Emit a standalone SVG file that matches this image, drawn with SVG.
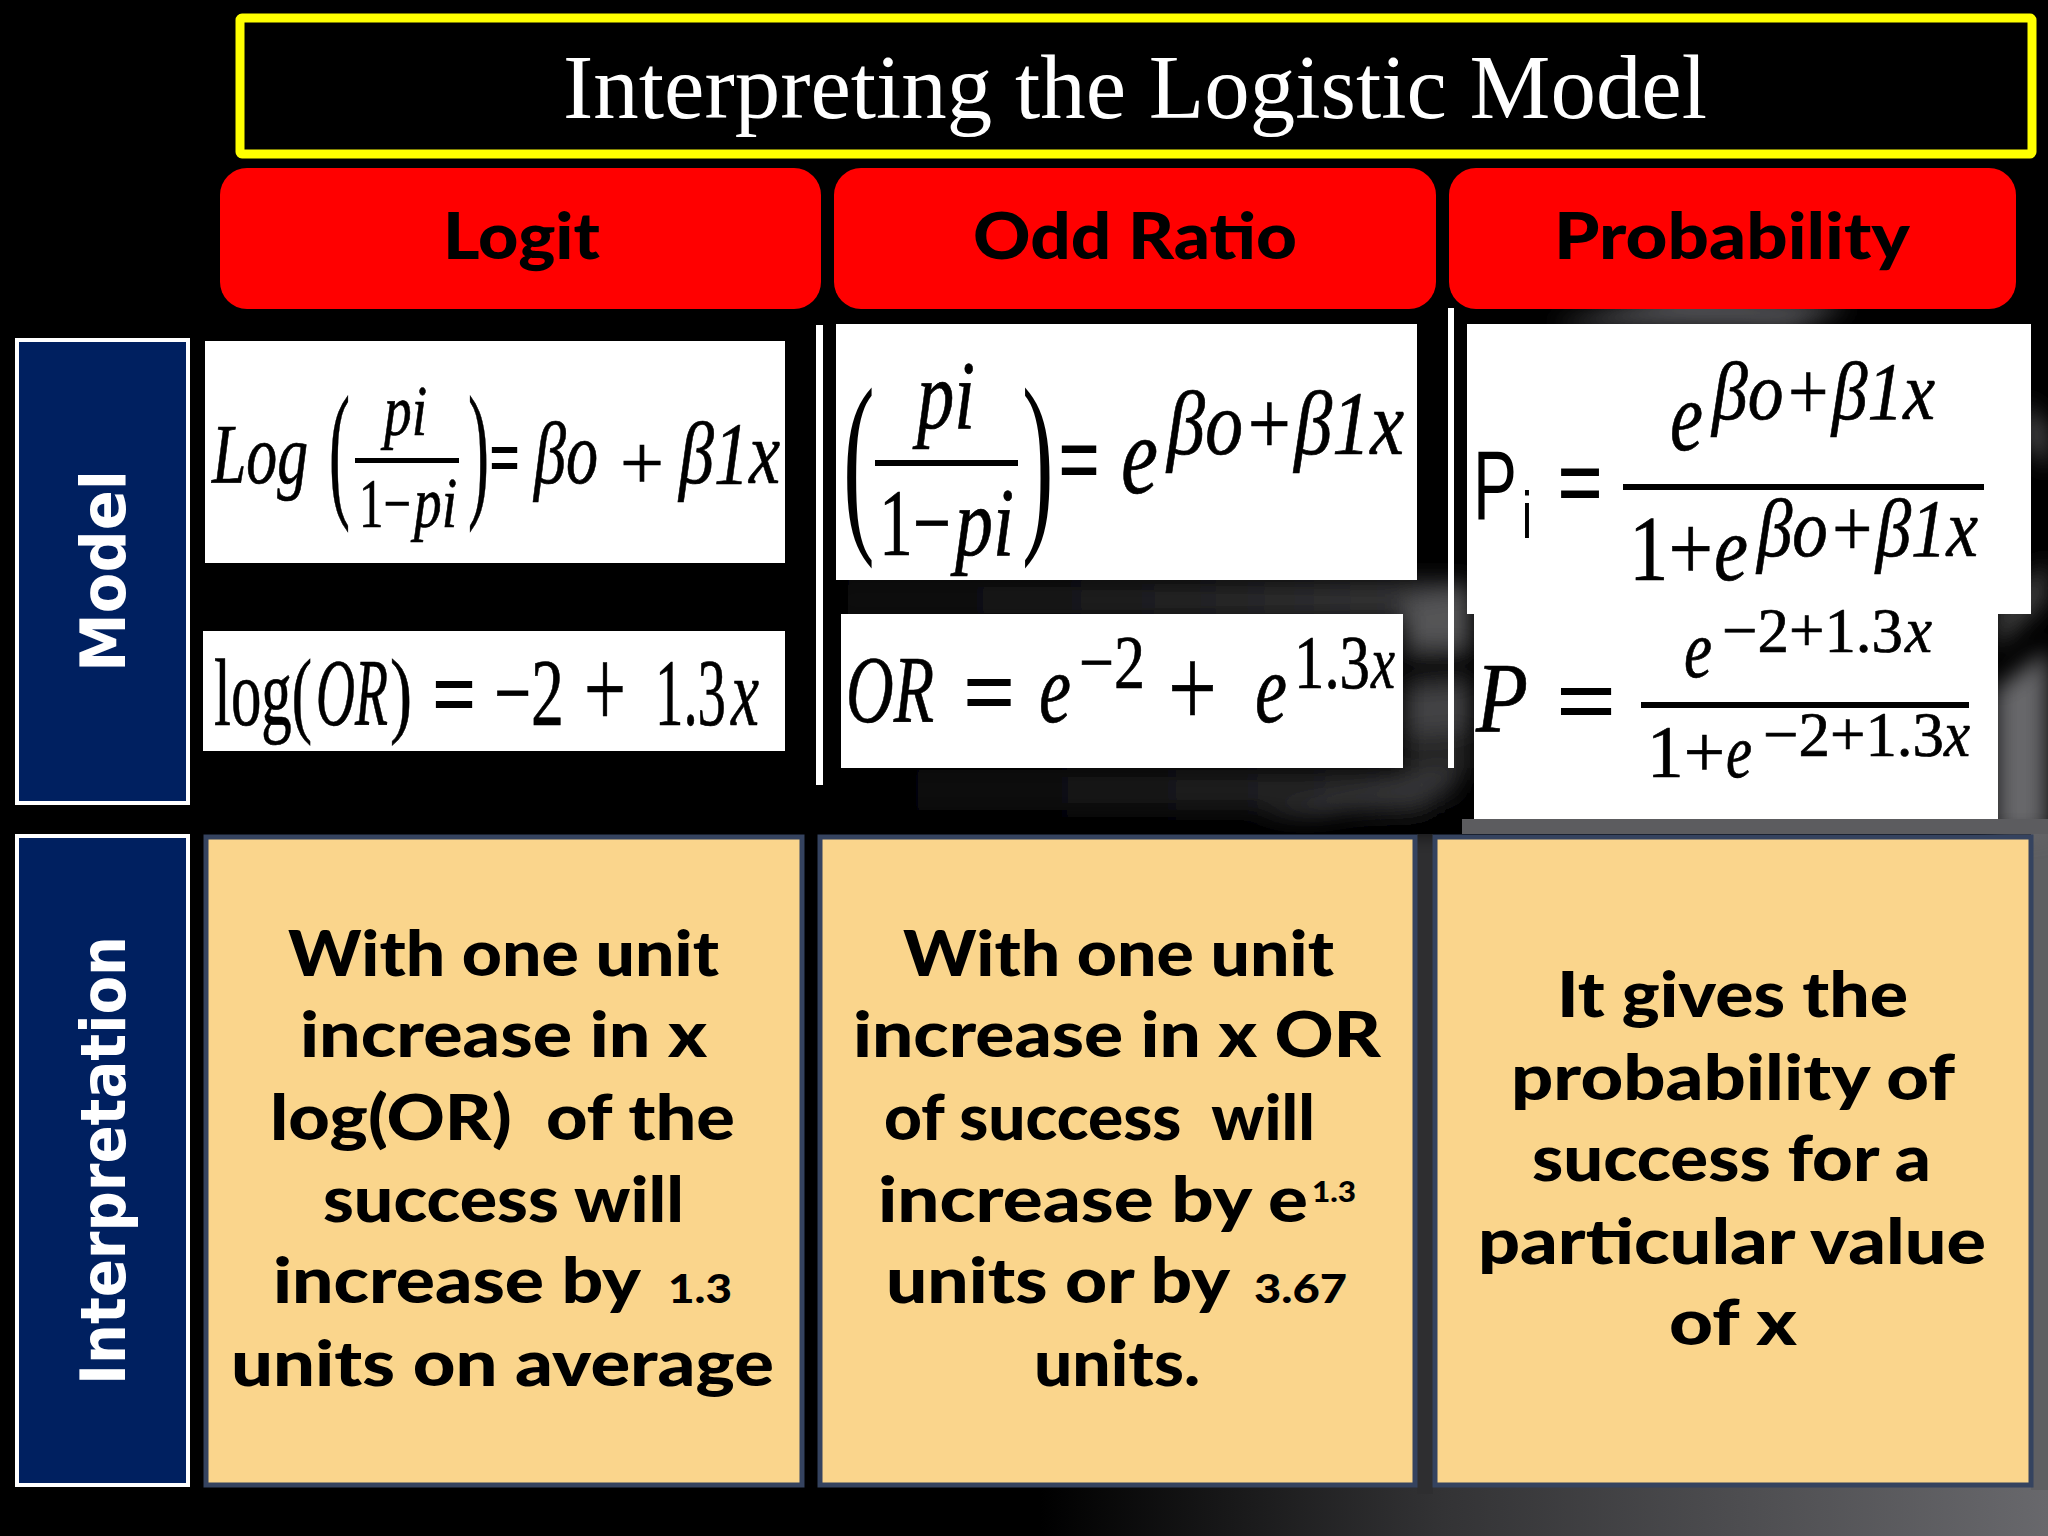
<svg xmlns="http://www.w3.org/2000/svg" width="2048" height="1536" viewBox="0 0 2048 1536">
<style>
.nav{fill:#002060;stroke:#fff;stroke-width:4}
.navt{font-family:"DejaVu Sans",sans-serif;font-weight:700;font-size:63px;fill:#fff}
.hdr{fill:#f00}
.hdt{font-family:"Lato",sans-serif;font-weight:900;font-size:64px;fill:#000}
.card{fill:#fad58c;stroke:#35435f;stroke-width:5}
.b{font-family:"Lato",sans-serif;font-weight:900;font-size:62px;fill:#000;white-space:pre}
.s{font-size:40px}
.w{fill:#fff}
.f{font-family:"Liberation Serif",serif;fill:#000;stroke:#000;stroke-width:.7}
.i{font-style:italic}
.u{font-family:"Liberation Sans",sans-serif;fill:#000}
.bar{fill:#000}
.op{stroke-width:2.2}
</style>
<defs>
<filter id="bl" x="-30%" y="-30%" width="160%" height="160%"><feGaussianBlur stdDeviation="11"/></filter>
<linearGradient id="floor" x1="1040" x2="2048" y1="0" y2="0" gradientUnits="userSpaceOnUse"><stop offset="0" stop-color="#000"/><stop offset="0.4" stop-color="#333335"/><stop offset="1" stop-color="#68686c"/></linearGradient>
<linearGradient id="mid" x1="830" x2="1430" y1="0" y2="0" gradientUnits="userSpaceOnUse"><stop offset="0" stop-color="#050505"/><stop offset="1" stop-color="#363638"/></linearGradient>
<linearGradient id="low" x1="830" x2="1400" y1="0" y2="0" gradientUnits="userSpaceOnUse"><stop offset="0" stop-color="#000"/><stop offset="1" stop-color="#2a2a2b"/></linearGradient>
</defs>
<g id="background">
<rect width="2048" height="1536" fill="#000"/>
<rect x="1000" y="1470" width="1048" height="66" fill="url(#floor)"/>
<rect x="1417" y="834" width="16" height="660" fill="#2e2e30"/>
<rect x="2031" y="830" width="17" height="660" fill="#5f5f62"/>
<g filter="url(#bl)">
<polygon points="1550,325 1690,290 1850,305 1790,330" fill="#505052"/>
<rect x="830" y="580" width="640" height="40" fill="url(#mid)"/>
<polygon points="1405,600 1470,590 1470,648 1405,650" fill="#555557"/>
<polygon points="1405,655 1470,650 1470,672 1405,678" fill="#060606"/>
<polygon points="1405,685 1470,680 1470,730 1405,735" fill="#434344"/>
<polygon points="1405,735 1470,730 1470,775 1405,780" fill="#262627"/>
<rect x="830" y="770" width="600" height="40" fill="url(#low)"/>
<polygon points="1260,815 1400,785 1450,768 1455,790 1320,815" fill="#3a3a3c"/>
<polygon points="1350,830 1450,800 1462,830" fill="#040404"/>
<polygon points="1995,690 2048,650 2048,835 1995,835" fill="#68686a"/>
<polygon points="1995,610 2048,560 2048,600 1995,650" fill="#3c3c3e"/>
<polygon points="2025,400 2048,430 2048,470 2025,440" fill="#4e4e50"/>
</g>
<rect x="1462" y="819" width="586" height="15" fill="#5c5c5f"/>
</g>
<g id="title">
<rect x="240" y="18" width="1792" height="136" fill="#000" stroke="#ff0" stroke-width="9" rx="2"/>
<text x="563" y="118" font-family="Liberation Serif, serif" font-size="91" fill="#fff" textLength="1144" lengthAdjust="spacingAndGlyphs">Interpreting the Logistic Model</text>
</g>
<g id="header-logit"><rect class="hdr" x="220" y="168" width="601" height="141" rx="27"/><text class="hdt" x="443" y="259" textLength="157" lengthAdjust="spacingAndGlyphs">Logit</text></g>
<g id="header-odd-ratio"><rect class="hdr" x="834" y="168" width="602" height="141" rx="27"/><text class="hdt" x="973" y="259" textLength="324" lengthAdjust="spacingAndGlyphs">Odd Ratio</text></g>
<g id="header-probability"><rect class="hdr" x="1449" y="168" width="567" height="141" rx="27"/><text class="hdt" x="1554" y="259" textLength="356" lengthAdjust="spacingAndGlyphs">Probability</text></g>
<g id="row-model"><rect class="nav" x="17" y="340" width="171" height="463"/><text class="navt" transform="translate(125,672) rotate(-90)" textLength="202" lengthAdjust="spacingAndGlyphs">Model</text></g>
<g id="row-interpretation"><rect class="nav" x="17" y="836" width="171" height="649"/><text class="navt" transform="translate(125,1385) rotate(-90)" textLength="449" lengthAdjust="spacingAndGlyphs">Interpretation</text></g>
<g id="dividers"><rect class="w" x="816" y="325" width="7" height="460"/><rect class="w" x="1448" y="308" width="6" height="460"/></g>

<g id="eq-logit">
<rect class="w" x="205" y="341" width="580" height="222"/>
<text class="f i" x="212" y="483" font-size="84" textLength="96" lengthAdjust="spacingAndGlyphs">Log</text>
<text class="f" transform="translate(329,500) scale(.42,1)" font-size="150">(</text>
<text class="f i" x="384" y="435" font-size="72" textLength="43" lengthAdjust="spacingAndGlyphs">pi</text>
<rect class="bar" x="355" y="458" width="104" height="5"/>
<text class="f" x="359" y="527" font-size="70" textLength="52" lengthAdjust="spacingAndGlyphs">1−</text>
<text class="f i" x="414" y="527" font-size="72" textLength="43" lengthAdjust="spacingAndGlyphs">pi</text>
<text class="f" transform="translate(468,500) scale(.42,1)" font-size="150">)</text>
<text class="f op" x="490" y="485" font-size="80" textLength="29" lengthAdjust="spacingAndGlyphs">=</text>
<text class="f i" x="534" y="483" font-size="88" textLength="64" lengthAdjust="spacingAndGlyphs">βo</text>
<text class="f" x="620" y="489" font-size="78" textLength="44" lengthAdjust="spacingAndGlyphs">+</text>
<text class="f i" x="679" y="483" font-size="88" textLength="101" lengthAdjust="spacingAndGlyphs">β1x</text>
</g>
<g id="eq-logit-value">
<rect class="w" x="203" y="631" width="582" height="120"/>
<text class="f" x="214" y="725" font-size="96" textLength="98" lengthAdjust="spacingAndGlyphs">log(</text>
<text class="f i" x="316" y="725" font-size="96" textLength="72" lengthAdjust="spacingAndGlyphs">OR</text>
<text class="f" x="390" y="725" font-size="96" textLength="22" lengthAdjust="spacingAndGlyphs">)</text>
<text class="f op" x="433" y="728" font-size="100" textLength="42" lengthAdjust="spacingAndGlyphs">=</text>
<text class="f" x="494" y="725" font-size="96" textLength="70" lengthAdjust="spacingAndGlyphs">−2</text>
<text class="f" x="584" y="727" font-size="114" textLength="42" lengthAdjust="spacingAndGlyphs">+</text>
<text class="f" x="655" y="725" font-size="96" textLength="71" lengthAdjust="spacingAndGlyphs">1.3</text>
<text class="f i" x="731" y="725" font-size="96" textLength="28" lengthAdjust="spacingAndGlyphs">x</text>
</g>
<g id="eq-odds">
<rect class="w" x="836" y="324" width="581" height="256"/>
<text class="f" transform="translate(843,526) scale(.5,1.05)" font-size="190" style="stroke-width:0">(</text>
<text class="f i" x="917" y="428" font-size="98" textLength="58" lengthAdjust="spacingAndGlyphs">pi</text>
<rect class="bar" x="875" y="460" width="143" height="6"/>
<text class="f" x="879" y="555" font-size="96" textLength="72" lengthAdjust="spacingAndGlyphs">1−</text>
<text class="f i" x="955" y="555" font-size="98" textLength="59" lengthAdjust="spacingAndGlyphs">pi</text>
<text class="f" transform="translate(1022,526) scale(.5,1.05)" font-size="190" style="stroke-width:0">)</text>
<text class="f op" x="1059" y="497" font-size="110" textLength="40" lengthAdjust="spacingAndGlyphs">=</text>
<text class="f i" x="1121" y="493" font-size="112" textLength="37" lengthAdjust="spacingAndGlyphs">e</text>
<text class="f i" x="1167" y="454" font-size="90" textLength="237" lengthAdjust="spacingAndGlyphs">βo+β1x</text>
</g>
<g id="eq-odds-value">
<rect class="w" x="841" y="614" width="562" height="154"/>
<text class="f i" x="846" y="722" font-size="96" textLength="88" lengthAdjust="spacingAndGlyphs">OR</text>
<text class="f op" x="964" y="726" font-size="100" textLength="50" lengthAdjust="spacingAndGlyphs">=</text>
<text class="f i" x="1039" y="722" font-size="100" textLength="32" lengthAdjust="spacingAndGlyphs">e</text>
<text class="f" x="1079" y="688" font-size="76" textLength="66" lengthAdjust="spacingAndGlyphs">−2</text>
<text class="f" x="1168" y="726" font-size="114" textLength="49" lengthAdjust="spacingAndGlyphs">+</text>
<text class="f i" x="1255" y="722" font-size="100" textLength="32" lengthAdjust="spacingAndGlyphs">e</text>
<text class="f" x="1294" y="688" font-size="76" textLength="76" lengthAdjust="spacingAndGlyphs">1.3</text>
<text class="f i" x="1371" y="688" font-size="76" textLength="24" lengthAdjust="spacingAndGlyphs">x</text>
</g>
<g id="eq-prob">
<rect class="w" x="1467" y="324" width="564" height="290"/>
<text class="u" x="1473" y="519" font-size="98" textLength="44" lengthAdjust="spacingAndGlyphs">P</text>
<text class="u" x="1522" y="538" font-size="66" textLength="10" lengthAdjust="spacingAndGlyphs">i</text>
<text class="f op" x="1558" y="520" font-size="110" textLength="44" lengthAdjust="spacingAndGlyphs">=</text>
<rect class="bar" x="1623" y="484" width="361" height="6"/>
<text class="f i" x="1670" y="450" font-size="100" textLength="33" lengthAdjust="spacingAndGlyphs">e</text>
<text class="f i" x="1712" y="419" font-size="82" textLength="223" lengthAdjust="spacingAndGlyphs">βo+β1x</text>
<text class="f" x="1629" y="580" font-size="94" textLength="84" lengthAdjust="spacingAndGlyphs">1+</text>
<text class="f i" x="1714" y="580" font-size="94" textLength="34" lengthAdjust="spacingAndGlyphs">e</text>
<text class="f i" x="1757" y="556" font-size="82" textLength="221" lengthAdjust="spacingAndGlyphs">βo+β1x</text>
</g>
<g id="eq-prob-value">
<rect class="w" x="1474" y="614" width="524" height="205"/>
<text class="f i" x="1476" y="731" font-size="100" textLength="52" lengthAdjust="spacingAndGlyphs">P</text>
<text class="f op" x="1557" y="735" font-size="100" textLength="58" lengthAdjust="spacingAndGlyphs">=</text>
<rect class="bar" x="1641" y="702" width="328" height="6"/>
<text class="f i" x="1684" y="677" font-size="82" textLength="28" lengthAdjust="spacingAndGlyphs">e</text>
<text class="f" x="1722" y="652" font-size="64" textLength="181" lengthAdjust="spacingAndGlyphs">−2+1.3</text>
<text class="f i" x="1905" y="652" font-size="66" textLength="27" lengthAdjust="spacingAndGlyphs">x</text>
<text class="f" x="1647" y="777" font-size="74" textLength="78" lengthAdjust="spacingAndGlyphs">1+</text>
<text class="f i" x="1726" y="777" font-size="76" textLength="26" lengthAdjust="spacingAndGlyphs">e</text>
<text class="f" x="1763" y="756" font-size="64" textLength="181" lengthAdjust="spacingAndGlyphs">−2+1.3</text>
<text class="f i" x="1944" y="756" font-size="66" textLength="26" lengthAdjust="spacingAndGlyphs">x</text>
</g>

<g id="card-logit">
<rect class="card" x="206" y="837" width="596" height="648"/>
<text class="b" x="288" y="976" textLength="431" lengthAdjust="spacingAndGlyphs">With one unit</text>
<text class="b" x="300" y="1057" textLength="407" lengthAdjust="spacingAndGlyphs">increase in x</text>
<text class="b" x="270" y="1140" textLength="465" lengthAdjust="spacingAndGlyphs">log(OR)  of the</text>
<text class="b" x="323" y="1222" textLength="361" lengthAdjust="spacingAndGlyphs">success will</text>
<text class="b" x="273" y="1303" textLength="368" lengthAdjust="spacingAndGlyphs">increase by</text>
<text class="b s" x="668" y="1303" textLength="64" lengthAdjust="spacingAndGlyphs">1.3</text>
<text class="b" x="231" y="1386" textLength="543" lengthAdjust="spacingAndGlyphs">units on average</text>
</g>
<g id="card-odds">
<rect class="card" x="820" y="837" width="595" height="648"/>
<text class="b" x="903" y="976" textLength="431" lengthAdjust="spacingAndGlyphs">With one unit</text>
<text class="b" x="853" y="1057" textLength="528" lengthAdjust="spacingAndGlyphs">increase in x OR</text>
<text class="b" x="884" y="1140" textLength="431" lengthAdjust="spacingAndGlyphs">of success  will</text>
<text class="b" x="878" y="1222" textLength="430" lengthAdjust="spacingAndGlyphs">increase by e</text>
<text class="b s" x="1312" y="1202" textLength="44" lengthAdjust="spacingAndGlyphs" style="font-size:28px">1.3</text>
<text class="b" x="886" y="1303" textLength="344" lengthAdjust="spacingAndGlyphs">units or by</text>
<text class="b s" x="1254" y="1303" textLength="93" lengthAdjust="spacingAndGlyphs">3.67</text>
<text class="b" x="1034" y="1386" textLength="166" lengthAdjust="spacingAndGlyphs">units.</text>
</g>
<g id="card-probability">
<rect class="card" x="1435" y="837" width="596" height="648"/>
<text class="b" x="1557" y="1017" textLength="351" lengthAdjust="spacingAndGlyphs">It gives the</text>
<text class="b" x="1511" y="1100" textLength="444" lengthAdjust="spacingAndGlyphs">probability of</text>
<text class="b" x="1532" y="1181" textLength="399" lengthAdjust="spacingAndGlyphs">success for a</text>
<text class="b" x="1478" y="1264" textLength="508" lengthAdjust="spacingAndGlyphs">particular value</text>
<text class="b" x="1669" y="1345" textLength="128" lengthAdjust="spacingAndGlyphs">of x</text>
</g>
</svg>
